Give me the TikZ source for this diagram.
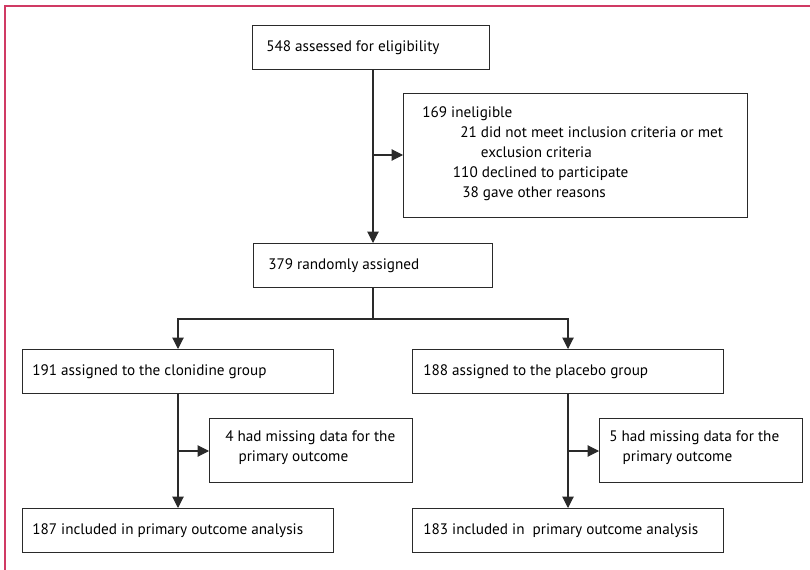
\documentclass[tikz,border=0pt]{standalone}
\usepackage{fontspec}
\setmainfont{PT Sans}
\usetikzlibrary{arrows.meta}
\definecolor{framec}{HTML}{D03A64}
\definecolor{linec}{HTML}{2A2A2A}
\tikzset{
  box/.style={draw=linec, line width=0.8pt, rectangle, anchor=north west, inner sep=0pt},
  txt/.style={anchor=west, inner sep=0pt, font=\fontsize{11.4}{15}\selectfont, text=black},
  conn/.style={draw=linec, line width=0.8pt},
  arr/.style={conn, -{Triangle[length=8.5pt,width=8.5pt]}}
}
\begin{document}
\begin{tikzpicture}[x=0.75pt,y=-0.75pt]
\useasboundingbox (0,0) rectangle (810,570);
% frame
\draw[framec, line width=1.2pt] (5,570) -- (5,6) -- (810,6);
% boxes
\node[box, minimum width=237*0.75pt, minimum height=44*0.75pt] (b1) at (252,25) {};
\node[txt] (t1) at (266,48) {548 assessed for eligibility};
\node[box, minimum width=344*0.75pt, minimum height=124*0.75pt] (inel) at (403,93) {};
\node[txt, align=left, anchor=north west] (tinel) at (422,106) {169 ineligible\\
\hspace*{28.5pt}21 did not meet inclusion criteria or met\\
\hspace*{44pt}exclusion criteria\\
\hspace*{23pt}110 declined to participate\\
\hspace*{30pt}38 gave other reasons};
\node[box, minimum width=239*0.75pt, minimum height=44*0.75pt] (rand) at (253,243) {};
\node[txt] (trand) at (268,266) {379 randomly assigned};
\node[box, minimum width=311*0.75pt, minimum height=44*0.75pt] (clo) at (22,349) {};
\node[txt] (tclo) at (32,372) {191 assigned to the clonidine group};
\node[box, minimum width=311*0.75pt, minimum height=44*0.75pt] (pla) at (412,349) {};
\node[txt] (tpla) at (423,372) {188 assigned to the placebo group};
\node[box, minimum width=203*0.75pt, minimum height=64*0.75pt] (mc) at (209,418) {};
\node[txt, align=left, anchor=north west] (tmc) at (225,430) {4 had missing data for the\\\hspace*{10pt}primary outcome};
\node[box, minimum width=203*0.75pt, minimum height=64*0.75pt] (mp) at (599,418) {};
\node[txt, align=left, anchor=north west] (tmp) at (609,430) {5 had missing data for the\\\hspace*{10pt}primary outcome};
\node[box, minimum width=311*0.75pt, minimum height=44*0.75pt] (ic) at (22,508) {};
\node[txt] (tic) at (32,531) {187 included in primary outcome analysis};
\node[box, minimum width=311*0.75pt, minimum height=44*0.75pt] (ip) at (412,508) {};
\node[txt] (tip) at (423,531) {183 included in\ \ primary outcome analysis};
% connectors
\coordinate (s1) at (373,155);
\coordinate (sp) at (373,319);
\coordinate (sl) at (178,319);
\coordinate (sr) at (568,319);
\coordinate (cl) at (178,451);
\coordinate (cr) at (568,451);
\draw[arr] (b1.south -| s1) -- (rand.north -| s1);
\draw[arr] (s1) -- (inel.west |- s1);
\draw[conn] (rand.south -| sp) -- (sp);
\draw[arr] (sp) -- (sl) -- (clo.north -| sl);
\draw[arr] (sp) -- (sr) -- (pla.north -| sr);
\draw[arr] (clo.south -| cl) -- (ic.north -| cl);
\draw[arr] (cl) -- (mc.west |- cl);
\draw[arr] (pla.south -| cr) -- (ip.north -| cr);
\draw[arr] (cr) -- (mp.west |- cr);
\end{tikzpicture}
\end{document}
